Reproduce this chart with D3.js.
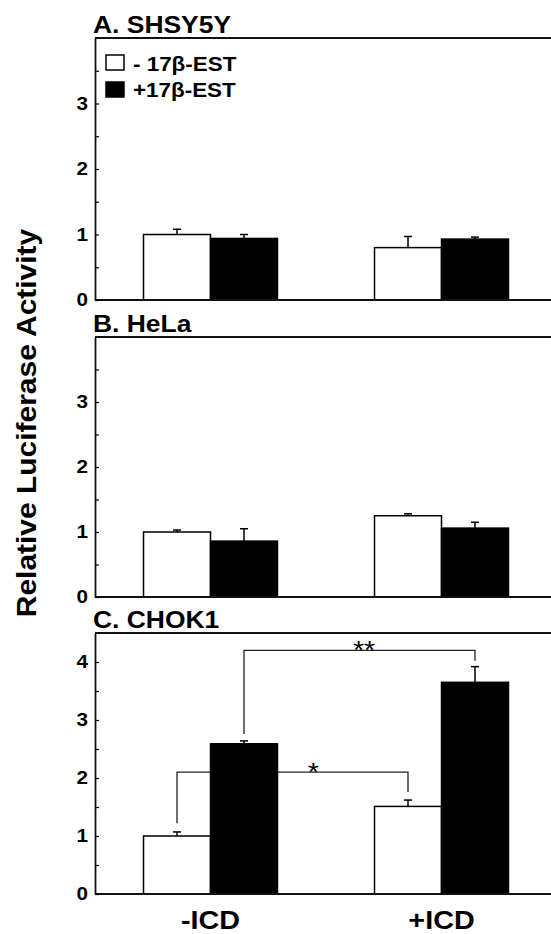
<!DOCTYPE html>
<html>
<head>
<meta charset="utf-8">
<script src="https://cdn.jsdelivr.net/npm/d3@7"></script>
<style>
body { margin: 0; background: #fff; }
text { font-family: "Liberation Sans", Arial, sans-serif; font-weight: bold; fill: #000; }
</style>
</head>
<body>
<script>
var groups = ["-ICD", "+ICD"];
var seriesNames = ["- 17β-EST", "+17β-EST"];
var panelNames = ["A. SHSY5Y", "B. HeLa", "C. CHOK1"];
var yTitle = "Relative Luciferase Activity";

// mean and upper error per group (-ICD, +ICD)
var shsyMinus = [1.00, 0.80], shsyMinusErr = [0.08, 0.17];
var shsyPlus  = [0.94, 0.93], shsyPlusErr  = [0.06, 0.03];
var helaMinus = [1.00, 1.25], helaMinusErr = [0.03, 0.03];
var helaPlus  = [0.86, 1.06], helaPlusErr  = [0.19, 0.09];
var chokMinus = [1.00, 1.51], chokMinusErr = [0.07, 0.11];
var chokPlus  = [2.59, 3.65], chokPlusErr  = [0.05, 0.27];

var yMaxes = [4, 4, 4.5];
var ticksAB = [0, 0.5, 1, 1.5, 2, 2.5, 3, 3.5];
var ticksC = [0, 0.5, 1, 1.5, 2, 2.5, 3, 3.5, 4];

// significance brackets (panel C): ends are [group, series]
var sigLabels = ["*", "**"];
var sigFrom = [[0, 0], [0, 1]];
var sigTo = [[1, 0], [1, 1]];
var sigLevel = [2.1, 4.2];
var sigFromEnd = [1.22, 2.76];
var sigToEnd = [1.76, 4.02];
var sigLabelAt = [0.59, 0.52];

var W = 551, H = 934;
var svg = d3.select("body").append("svg")
    .attr("width", W)
    .attr("height", H)
    .style("display", "block");

var left = 95, rightEdge = 551;
var panelTop = [38, 337, 633];
var panelBottom = [300, 597, 894];
var sx = 1.15;

var panels = [
    {name: panelNames[0], vals: [shsyMinus, shsyPlus], errs: [shsyMinusErr, shsyPlusErr], ticks: ticksAB},
    {name: panelNames[1], vals: [helaMinus, helaPlus], errs: [helaMinusErr, helaPlusErr], ticks: ticksAB},
    {name: panelNames[2], vals: [chokMinus, chokPlus], errs: [chokMinusErr, chokPlusErr], ticks: ticksC}
];

var x0 = d3.scaleBand()
    .domain(groups)
    .range([left, 557])
    .paddingInner(0.42)
    .paddingOuter(0.21);

var x1 = d3.scaleBand()
    .domain([0, 1])
    .range([0, x0.bandwidth()]);

var fills = ["#fff", "#000"];

function wideText(parent, x, y, str, size, anchor) {
    return parent.append("text")
        .attr("transform", "translate(" + x + "," + y + ") scale(" + sx + ",1)")
        .attr("text-anchor", anchor)
        .style("font-size", size + "px")
        .text(str);
}

panels.forEach(function(p, pi) {
    var y = d3.scaleLinear()
        .domain([0, yMaxes[pi]])
        .range([panelBottom[pi], panelTop[pi]]);
    var g = svg.append("g");

    // significance brackets drawn behind the bars
    if (pi == 2) {
        sigLabels.forEach(function(lab, k) {
            var xa = x0(groups[sigFrom[k][0]]) + x1(sigFrom[k][1]) + x1.bandwidth() / 2;
            var xb = x0(groups[sigTo[k][0]]) + x1(sigTo[k][1]) + x1.bandwidth() / 2;
            var yl = y(sigLevel[k]);
            g.append("path")
                .attr("d", "M" + xa + "," + y(sigFromEnd[k]) + "V" + yl + "H" + xb + "V" + y(sigToEnd[k]))
                .attr("fill", "none")
                .attr("stroke", "#222")
                .attr("stroke-width", 1.3);
            wideText(g, xa + (xb - xa) * sigLabelAt[k], yl + 9, lab, 25, "middle")
                .style("font-weight", "normal");
        });
    }

    groups.forEach(function(grp, gi) {
        [0, 1].forEach(function(s) {
            var v = p.vals[s][gi], e = p.errs[s][gi];
            var bx = x0(grp) + x1(s);
            var cx = bx + x1.bandwidth() / 2;
            g.append("line")
                .attr("x1", cx).attr("x2", cx)
                .attr("y1", y(v)).attr("y2", y(v + e))
                .attr("stroke", "#000").attr("stroke-width", 1.5);
            g.append("line")
                .attr("x1", cx - 4).attr("x2", cx + 4)
                .attr("y1", y(v + e)).attr("y2", y(v + e))
                .attr("stroke", "#000").attr("stroke-width", 1.5);
            g.append("rect")
                .attr("x", bx)
                .attr("y", y(v))
                .attr("width", x1.bandwidth())
                .attr("height", y(0) - y(v))
                .attr("fill", fills[s])
                .attr("stroke", "#000")
                .attr("stroke-width", 1.5);
        });
    });

    // frame: top and bottom lines
    [0, yMaxes[pi]].forEach(function(v) {
        g.append("line")
            .attr("x1", left).attr("x2", rightEdge)
            .attr("y1", y(v)).attr("y2", y(v))
            .attr("stroke", "#111").attr("stroke-width", 1.8);
    });

    var yAxis = d3.axisLeft(y)
        .tickValues(p.ticks)
        .tickSizeInner(-4)
        .tickSizeOuter(0)
        .tickPadding(6)
        .tickFormat(function(d) { return Number.isInteger(d) ? d : ""; });

    var ax = g.append("g")
        .attr("transform", "translate(" + left + ",0)")
        .call(yAxis);
    ax.select(".domain").attr("stroke-width", 1.8).attr("stroke", "#111");
    ax.selectAll("line").attr("stroke-width", 1.2);
    ax.selectAll("text")
        .attr("transform", "scale(" + sx + ",1)")
        .style("font-size", "18px")
        .style("font-family", "'Liberation Sans', Arial, sans-serif")
        .style("font-weight", "bold");

    wideText(svg, 93, panelTop[pi] - 5, p.name, 23, "start");
});

// legend in panel A
var leg = svg.append("g");
seriesNames.forEach(function(name, i) {
    leg.append("rect")
        .attr("x", 106)
        .attr("y", 55 + i * 27)
        .attr("width", 18)
        .attr("height", 15)
        .attr("fill", fills[i])
        .attr("stroke", "#000")
        .attr("stroke-width", 1.5);
    wideText(leg, 133, 71 + i * 26, name, 19.5, "start");
});

// x labels
groups.forEach(function(grp) {
    wideText(svg, x0(grp) + x0.bandwidth() / 2, 929, grp, 25, "middle");
});

// y title
svg.append("text")
    .attr("transform", "translate(36,423) rotate(-90) scale(1.07,1)")
    .attr("text-anchor", "middle")
    .style("font-size", "28px")
    .text(yTitle);
</script>
</body>
</html>
